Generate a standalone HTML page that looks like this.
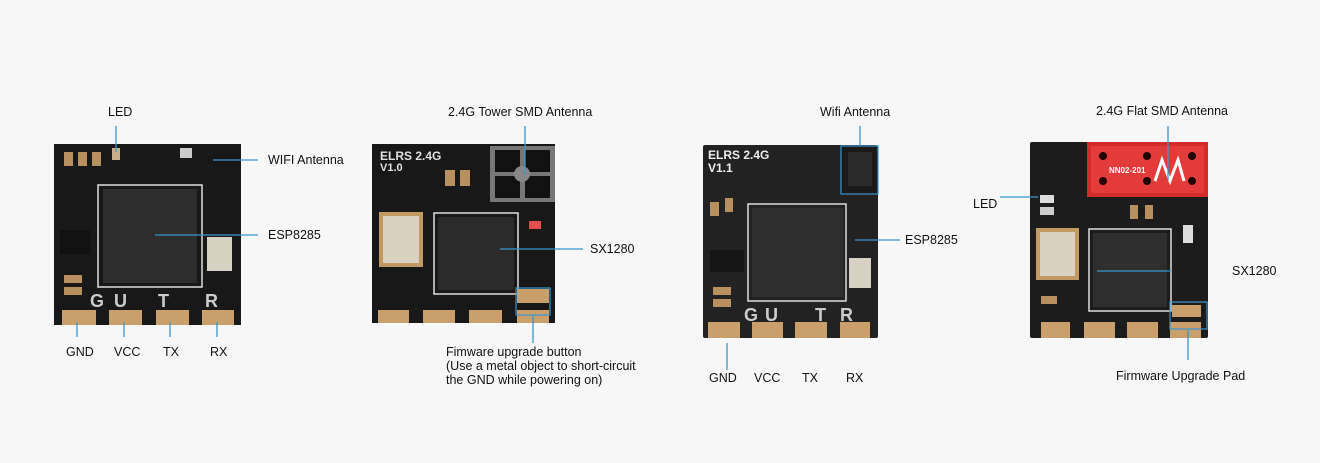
<!DOCTYPE html>
<html><head><meta charset="utf-8"><style>
html,body{margin:0;padding:0;background:#f7f7f7;}
svg{display:block}
text{font-family:"Liberation Sans",sans-serif;font-size:12.5px;fill:#111;}
</style></head><body>
<svg width="1320" height="463" viewBox="0 0 1320 463" xmlns="http://www.w3.org/2000/svg">
<rect width="1320" height="463" fill="#f7f7f7"/>
<defs>
<pattern id="pins" width="6" height="6" patternUnits="userSpaceOnUse"><rect width="4" height="3" fill="#ddd"/></pattern>
</defs>

<!-- Board 1 -->
<rect x="54" y="144" width="187" height="181" fill="#181818"/>
<rect x="64" y="152" width="9" height="14" fill="#b89060"/><rect x="78" y="152" width="9" height="14" fill="#b89060"/><rect x="92" y="152" width="9" height="14" fill="#b89060"/>
<rect x="112" y="148" width="8" height="12" fill="#c9b08a"/>
<rect x="180" y="148" width="12" height="10" fill="#ccc"/>
<rect x="98" y="185" width="104" height="102" fill="none" stroke="#ddd" stroke-width="1.5"/>
<rect x="103" y="189" width="94" height="94" fill="#2d2d2d"/>
<rect x="60" y="230" width="30" height="24" fill="#111"/>
<rect x="207" y="237" width="25" height="34" fill="#d8d2c4"/>
<rect x="64" y="275" width="18" height="8" fill="#b89060"/><rect x="64" y="287" width="18" height="8" fill="#b89060"/>
<text x="90" y="307" style="font-size:18px;font-weight:bold;fill:#ccc">G</text>
<text x="114" y="307" style="font-size:18px;font-weight:bold;fill:#ccc">U</text>
<text x="158" y="307" style="font-size:18px;font-weight:bold;fill:#ccc">T</text>
<text x="205" y="307" style="font-size:18px;font-weight:bold;fill:#ccc">R</text>
<rect x="62" y="310" width="34" height="15" fill="#c9a06c"/><rect x="109" y="310" width="33" height="15" fill="#c9a06c"/>
<rect x="156" y="310" width="33" height="15" fill="#c9a06c"/><rect x="202" y="310" width="32" height="15" fill="#c9a06c"/>

<!-- Board 2 -->
<rect x="372" y="144" width="183" height="179" fill="#181818"/>
<text x="380" y="160" style="font-size:12px;font-weight:bold;fill:#e0e0e0">ELRS 2.4G</text>
<text x="380" y="171" style="font-size:11px;font-weight:bold;fill:#e0e0e0">V1.0</text>
<rect x="490" y="146" width="65" height="56" fill="#777"/>
<rect x="495" y="150" width="25" height="22" fill="#111"/><rect x="525" y="150" width="25" height="22" fill="#111"/>
<rect x="495" y="176" width="25" height="22" fill="#111"/><rect x="525" y="176" width="25" height="22" fill="#111"/>
<circle cx="522" cy="174" r="8" fill="#888"/>
<rect x="445" y="170" width="10" height="16" fill="#b89060"/><rect x="460" y="170" width="10" height="16" fill="#b89060"/>
<rect x="379" y="212" width="44" height="55" fill="#c09a62"/><rect x="383" y="216" width="36" height="47" fill="#d9d1c2"/>
<rect x="434" y="213" width="84" height="81" fill="none" stroke="#ddd" stroke-width="1.5"/>
<rect x="438" y="217" width="76" height="73" fill="#2b2b2b"/>
<rect x="529" y="221" width="12" height="8" fill="#e05050"/>
<rect x="517" y="289" width="32" height="14" fill="#c9a06c"/>
<rect x="378" y="310" width="31" height="13" fill="#c9a06c"/><rect x="423" y="310" width="32" height="13" fill="#c9a06c"/>
<rect x="469" y="310" width="33" height="13" fill="#c9a06c"/><rect x="517" y="310" width="32" height="13" fill="#c9a06c"/>
<rect x="516" y="288" width="34" height="27" fill="none" stroke="#3a97cf" stroke-width="1.2"/>

<!-- Board 3 -->
<rect x="703" y="145" width="175" height="193" rx="2" fill="#222"/>
<text x="708" y="159" style="font-size:12px;font-weight:bold;fill:#eee">ELRS 2.4G</text>
<text x="708" y="172" style="font-size:12px;font-weight:bold;fill:#eee">V1.1</text>
<rect x="841" y="146" width="37" height="48" fill="#1a1a1a" stroke="#3a97cf" stroke-width="1.2"/>
<rect x="848" y="152" width="24" height="34" fill="#2a2a2a"/>
<rect x="748" y="204" width="98" height="97" fill="none" stroke="#ddd" stroke-width="1.5"/>
<rect x="752" y="208" width="91" height="89" fill="#2f2f2f"/>
<rect x="710" y="202" width="9" height="14" fill="#b89060"/><rect x="725" y="198" width="8" height="14" fill="#b89060"/>
<rect x="710" y="250" width="34" height="22" fill="#141414"/>
<rect x="849" y="258" width="22" height="30" fill="#d8d2c4"/>
<rect x="713" y="287" width="18" height="8" fill="#b89060"/><rect x="713" y="299" width="18" height="8" fill="#b89060"/>
<text x="744" y="321" style="font-size:18px;font-weight:bold;fill:#ccc">G</text>
<text x="765" y="321" style="font-size:18px;font-weight:bold;fill:#ccc">U</text>
<text x="815" y="321" style="font-size:18px;font-weight:bold;fill:#ccc">T</text>
<text x="840" y="321" style="font-size:18px;font-weight:bold;fill:#ccc">R</text>
<rect x="708" y="322" width="32" height="16" fill="#c9a06c"/><rect x="752" y="322" width="31" height="16" fill="#c9a06c"/>
<rect x="795" y="322" width="32" height="16" fill="#c9a06c"/><rect x="840" y="322" width="30" height="16" fill="#c9a06c"/>

<!-- Board 4 -->
<rect x="1030" y="142" width="178" height="196" rx="2" fill="#1c1c1c"/>
<rect x="1087" y="142" width="121" height="55" fill="#d42a2a"/>
<rect x="1091" y="146" width="113" height="47" fill="#e33a3a"/>
<circle cx="1103" cy="156" r="4" fill="#200"/><circle cx="1103" cy="181" r="4" fill="#200"/>
<circle cx="1147" cy="156" r="4" fill="#200"/><circle cx="1147" cy="181" r="4" fill="#200"/>
<circle cx="1192" cy="156" r="4" fill="#200"/><circle cx="1192" cy="181" r="4" fill="#200"/>
<text x="1109" y="173" style="font-size:8px;font-weight:bold;fill:#fff">NN02-201</text>
<polyline points="1155,181 1162,160 1170,181 1178,160 1184,181" fill="none" stroke="#fff" stroke-width="3"/>
<rect x="1040" y="195" width="14" height="8" fill="#ddd"/><rect x="1040" y="207" width="14" height="8" fill="#ccc"/>
<rect x="1036" y="228" width="43" height="52" fill="#c09a62"/><rect x="1040" y="232" width="35" height="44" fill="#d9d1c2"/>
<rect x="1089" y="229" width="82" height="82" fill="none" stroke="#ddd" stroke-width="1.5"/>
<rect x="1093" y="233" width="74" height="74" fill="#2e2e2e"/>
<rect x="1183" y="225" width="10" height="18" fill="#ddd"/>
<rect x="1130" y="205" width="8" height="14" fill="#b89060"/><rect x="1145" y="205" width="8" height="14" fill="#b89060"/>
<rect x="1041" y="296" width="16" height="8" fill="#b89060"/>
<rect x="1041" y="322" width="29" height="16" fill="#c9a06c"/><rect x="1084" y="322" width="31" height="16" fill="#c9a06c"/>
<rect x="1127" y="322" width="31" height="16" fill="#c9a06c"/><rect x="1170" y="322" width="31" height="16" fill="#c9a06c"/>
<rect x="1172" y="305" width="29" height="12" fill="#c9a06c"/>
<rect x="1170" y="302" width="37" height="27" fill="none" stroke="#3a97cf" stroke-width="1.2"/>

<!-- connectors -->
<g stroke="#3a97cf" stroke-width="1.3" fill="none">
<line x1="116" y1="126" x2="116" y2="152"/>
<line x1="213" y1="160" x2="258" y2="160"/>
<line x1="155" y1="235" x2="258" y2="235"/>
<line x1="77" y1="322" x2="77" y2="337"/><line x1="124" y1="322" x2="124" y2="337"/>
<line x1="170" y1="322" x2="170" y2="337"/><line x1="217" y1="322" x2="217" y2="337"/>
<line x1="525" y1="126" x2="525" y2="175"/>
<line x1="500" y1="249" x2="583" y2="249"/>
<line x1="533" y1="315" x2="533" y2="343"/>
<line x1="860" y1="126" x2="860" y2="146"/>
<line x1="855" y1="240" x2="900" y2="240"/>
<line x1="727" y1="343" x2="727" y2="370"/>
<line x1="1168" y1="126" x2="1168" y2="180"/>
<line x1="1000" y1="197" x2="1038" y2="197"/>
<line x1="1097" y1="271" x2="1171" y2="271"/>
<line x1="1188" y1="330" x2="1188" y2="360"/>
</g>

<!-- labels -->
<text x="108" y="116">LED</text>
<text x="268" y="164">WIFI Antenna</text>
<text x="268" y="239">ESP8285</text>
<text x="66" y="356">GND</text><text x="114" y="356">VCC</text><text x="163" y="356">TX</text><text x="210" y="356">RX</text>
<text x="448" y="116">2.4G Tower SMD Antenna</text>
<text x="590" y="253">SX1280</text>
<text x="446" y="356">Fimware upgrade button</text>
<text x="446" y="370">(Use a metal object to short-circuit</text>
<text x="446" y="384">the GND while powering on)</text>
<text x="820" y="116">Wifi Antenna</text>
<text x="905" y="244">ESP8285</text>
<text x="709" y="382">GND</text><text x="754" y="382">VCC</text><text x="802" y="382">TX</text><text x="846" y="382">RX</text>
<text x="1096" y="115">2.4G Flat SMD Antenna</text>
<text x="973" y="208">LED</text>
<text x="1232" y="275">SX1280</text>
<text x="1116" y="380">Firmware Upgrade Pad</text>
</svg>
</body></html>
